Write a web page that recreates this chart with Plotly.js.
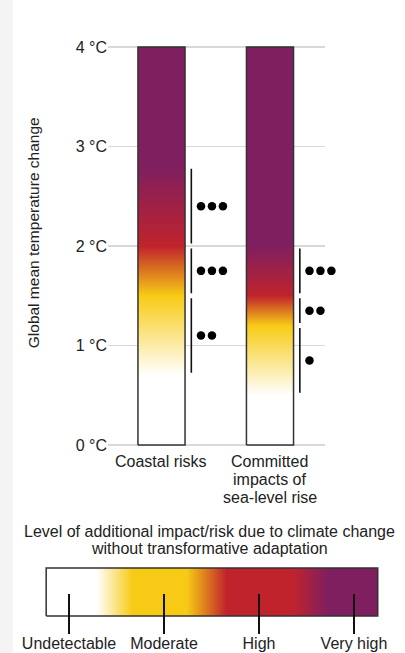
<!DOCTYPE html>
<html><head><meta charset="utf-8">
<script src="https://cdn.plot.ly/plotly-3.0.1.min.js"></script>
<style>
html,body{margin:0;padding:0;background:#f4f4f4;width:405px;height:653px;overflow:hidden}
#chart{position:absolute;left:13px;top:0;width:392px;height:653px;background:#fff}
</style></head><body><div id="chart"></div>
<script>
// ---- data ----
const categories = ['Coastal risks', 'Committed<br>impacts of<br>sea-level rise'];
const barTop = [4, 4];                       // bars span 0 to 4 °C
const levelNames = ['Undetectable', 'Moderate', 'High', 'Very high'];
const levelColors = ['#ffffff', '#f7cb15', '#c0232c', '#7f1f5f'];
// temperature (°C) at which each risk level is reached
const coastalTransitions = [0.7, 1.5, 2.0, 2.8];
const committedTransitions = [0.5, 1.2, 1.5, 2.0];
// confidence assessment ranges (°C) and number of dots
const coastalConfLow = [0.7, 1.5, 2.0];
const coastalConfHigh = [1.5, 2.0, 2.8];
const coastalConfDots = [2, 3, 3];
const committedConfLow = [0.5, 1.2, 1.5];
const committedConfHigh = [1.2, 1.5, 2.0];
const committedConfDots = [1, 2, 3];
const yTickVals = [0, 1, 2, 3, 4];
const yTickText = ['0 °C', '1 °C', '2 °C', '3 °C', '4 °C'];
// colour key: plateau of each level on the key (level units)
const keyPlateauStart = [-0.24, 0.67, 1.66, 2.72];
const keyPlateauEnd = [0.29, 1.24, 2.36, 3.25];

// ---- build traces ----
const transitions = [coastalTransitions, committedTransitions];
const confLow = [coastalConfLow, committedConfLow];
const confHigh = [coastalConfHigh, committedConfHigh];
const confDots = [coastalConfDots, committedConfDots];
const halfW = 0.217, confOff = 0.275, dotOff = 0.364, dotStep = 0.101, gap = 0.025;

const traces = [];
categories.forEach((c, i) => {
  const top = barTop[i];
  const cs = [[0, levelColors[0]]];
  transitions[i].forEach((t, k) => cs.push([t / top, levelColors[k]]));
  cs.push([1, levelColors[levelColors.length - 1]]);
  traces.push({
    type: 'scatter', mode: 'lines', hoverinfo: 'skip',
    x: [i - halfW, i + halfW, i + halfW, i - halfW, i - halfW],
    y: [0, 0, top, top, 0],
    fill: 'toself',
    fillgradient: {type: 'vertical', start: 0, stop: top, colorscale: cs},
    line: {color: '#333', width: 1.5}
  });
  const lx = [], ly = [];
  confLow[i].forEach((lo, j) => {
    lx.push(i + confOff, i + confOff, null);
    ly.push(lo + gap, confHigh[i][j] - gap, null);
  });
  traces.push({type: 'scatter', mode: 'lines', hoverinfo: 'skip', x: lx, y: ly,
    xaxis: 'x3', yaxis: 'y3', line: {color: '#111', width: 1.6}});
  const dx = [], dy = [];
  confLow[i].forEach((lo, j) => {
    for (let k = 0; k < confDots[i][j]; k++) {
      dx.push(i + dotOff + k * dotStep);
      dy.push((lo + confHigh[i][j]) / 2);
    }
  });
  traces.push({type: 'scatter', mode: 'markers', hoverinfo: 'skip', x: dx, y: dy,
    xaxis: 'x3', yaxis: 'y3', marker: {color: '#000', size: 8.5}});
});

// colour key
const kStart = keyPlateauStart[0], kStop = keyPlateauEnd[keyPlateauEnd.length - 1];
const kcs = [];
keyPlateauStart.forEach((s, k) => {
  kcs.push([(s - kStart) / (kStop - kStart), levelColors[k]]);
  kcs.push([(keyPlateauEnd[k] - kStart) / (kStop - kStart), levelColors[k]]);
});
traces.push({
  type: 'scatter', mode: 'lines', hoverinfo: 'skip', xaxis: 'x2', yaxis: 'y2',
  x: [kStart, kStop, kStop, kStart, kStart], y: [0, 0, 1, 1, 0],
  fill: 'toself',
  fillgradient: {type: 'horizontal', start: kStart, stop: kStop, colorscale: kcs},
  line: {color: '#333', width: 1.5}
});

// category labels (one annotation per line)
const annotations = [];
categories.forEach((c, i) => {
  c.split('<br>').forEach((line, k) => {
    annotations.push({text: line, xref: 'x', yref: 'y', x: i, y: 0, showarrow: false,
      xanchor: 'center', yanchor: 'middle', yshift: -16 - 18 * k,
      font: {size: 16, color: '#222'}});
  });
});
annotations.push({text: 'Global mean temperature change', textangle: -90, xref: 'paper', yref: 'paper',
  x: -0.0327, y: 0.668, xanchor: 'center', yanchor: 'middle', showarrow: false,
  font: {size: 15.5, color: '#222'}});
['Level of additional impact/risk due to climate change', 'without transformative adaptation']
  .forEach((t, k) => annotations.push({text: t, xref: 'paper', yref: 'paper', x: 0.494,
    y: [0.1510, 0.1215][k], xanchor: 'center', yanchor: 'middle', showarrow: false,
    font: {size: 16, color: '#222'}}));

const mainDomX = [0.1905, 0.8363], mainRangeX = [-0.493, 1.507];
const pxPerUnit = (mainDomX[1] - mainDomX[0]) / (mainRangeX[1] - mainRangeX[0]);
const wideDomX = [0.1905, 0.98];
const layout = {
  width: 392, height: 653,
  margin: {l: 31, r: 25, t: 42, b: 35},
  paper_bgcolor: '#ffffff', plot_bgcolor: 'rgba(0,0,0,0)',
  showlegend: false,
  font: {family: '"Liberation Sans", Arial, sans-serif', size: 16, color: '#222'},
  xaxis: {domain: mainDomX, range: mainRangeX, showgrid: false, zeroline: false,
    showticklabels: false, ticks: '', fixedrange: true},
  yaxis: {domain: [0.2917, 1], range: [-0.05, 4.05], tickvals: yTickVals, ticktext: yTickText,
    showgrid: true, gridcolor: '#d9d9d9', gridwidth: 1.5, zeroline: false, ticks: '',
    ticklabelstandoff: 0, fixedrange: true},
  xaxis3: {domain: wideDomX, anchor: 'y3', visible: false, fixedrange: true,
    range: [mainRangeX[0], mainRangeX[0] + (wideDomX[1] - wideDomX[0]) / pxPerUnit]},
  yaxis3: {domain: [0.2917, 1], range: [-0.05, 4.05], anchor: 'x3', visible: false, fixedrange: true},
  xaxis2: {domain: [0, 1], range: [-0.263, 3.274], anchor: 'free', position: 0.0434,
    tickvals: [0, 1, 2, 3], ticktext: levelNames, ticks: 'outside', ticklen: 40, tickwidth: 2,
    tickcolor: '#111', showgrid: false, zeroline: false, showline: false, fixedrange: true,
    ticklabelstandoff: -4},
  yaxis2: {domain: [0, 0.0903], range: [-0.0417, 1.0417], anchor: 'x2', visible: false, fixedrange: true},
  annotations: annotations
};
Plotly.newPlot('chart', traces, layout, {displayModeBar: false, staticPlot: true});
</script></body></html>
